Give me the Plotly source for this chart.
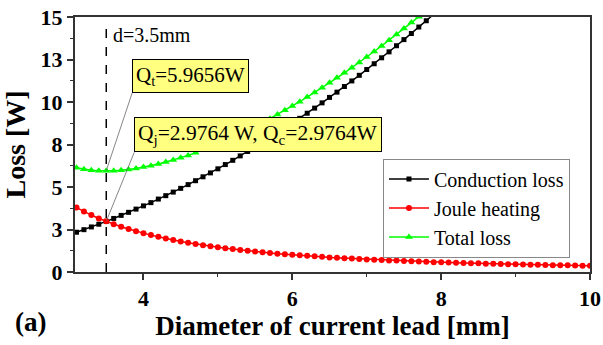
import plotly.graph_objects as go

# Diameter of current lead [mm]
d_cond = [3.1, 3.2, 3.3, 3.4, 3.5, 3.6, 3.7, 3.8, 3.9, 4.0, 4.1, 4.2, 4.3, 4.4, 4.5, 4.6, 4.7, 4.8, 4.9, 5.0,
          5.1, 5.2, 5.3, 5.4, 5.5, 5.6, 5.7, 5.8, 5.9, 6.0, 6.1, 6.2, 6.3, 6.4, 6.5, 6.6, 6.7, 6.8, 6.9, 7.0,
          7.1, 7.2, 7.3, 7.4, 7.5, 7.6, 7.7, 7.8, 7.9, 8.0]
conduction = [2.34, 2.49, 2.65, 2.81, 2.98, 3.15, 3.33, 3.51, 3.70, 3.89, 4.08, 4.29, 4.49, 4.70, 4.92, 5.14,
              5.37, 5.60, 5.83, 6.07, 6.32, 6.57, 6.83, 7.09, 7.35, 7.62, 7.89, 8.17, 8.46, 8.75, 9.04, 9.34,
              9.64, 9.95, 10.27, 10.58, 10.91, 11.24, 11.57, 11.91, 12.25, 12.60, 12.95, 13.31, 13.67, 14.03,
              14.41, 14.78, 15.16, 15.55]

d_joule = [3.1, 3.2, 3.3, 3.4, 3.5, 3.6, 3.7, 3.8, 3.9, 4.0, 4.1, 4.2, 4.3, 4.4, 4.5, 4.6, 4.7, 4.8, 4.9, 5.0,
           5.1, 5.2, 5.3, 5.4, 5.5, 5.6, 5.7, 5.8, 5.9, 6.0, 6.1, 6.2, 6.3, 6.4, 6.5, 6.6, 6.7, 6.8, 6.9, 7.0,
           7.1, 7.2, 7.3, 7.4, 7.5, 7.6, 7.7, 7.8, 7.9, 8.0, 8.1, 8.2, 8.3, 8.4, 8.5, 8.6, 8.7, 8.8, 8.9, 9.0,
           9.1, 9.2, 9.3, 9.4, 9.5, 9.6, 9.7, 9.8, 9.9, 10.0]
joule = [3.79, 3.56, 3.35, 3.15, 2.98, 2.81, 2.66, 2.53, 2.40, 2.28, 2.17, 2.07, 1.97, 1.88, 1.80, 1.72,
         1.65, 1.58, 1.52, 1.46, 1.40, 1.35, 1.30, 1.25, 1.21, 1.16, 1.12, 1.08, 1.05, 1.01, 0.98, 0.95,
         0.92, 0.89, 0.86, 0.84, 0.81, 0.79, 0.77, 0.74, 0.72, 0.70, 0.68, 0.67, 0.65, 0.63, 0.62, 0.60,
         0.58, 0.57, 0.56, 0.54, 0.53, 0.52, 0.51, 0.49, 0.48, 0.47, 0.46, 0.45, 0.44, 0.43, 0.42, 0.41,
         0.40, 0.40, 0.39, 0.38, 0.37, 0.37]

d_total = [3.1, 3.2, 3.3, 3.4, 3.5, 3.6, 3.7, 3.8, 3.9, 4.0, 4.1, 4.2, 4.3, 4.4, 4.5, 4.6, 4.7, 4.8, 4.9, 5.0,
           5.1, 5.2, 5.3, 5.4, 5.5, 5.6, 5.7, 5.8, 5.9, 6.0, 6.1, 6.2, 6.3, 6.4, 6.5, 6.6, 6.7, 6.8, 6.9, 7.0,
           7.1, 7.2, 7.3, 7.4, 7.5, 7.6, 7.7, 7.8]
total = [6.13, 6.05, 5.99, 5.96, 5.95, 5.96, 5.99, 6.03, 6.09, 6.17, 6.25, 6.35, 6.47, 6.59, 6.72, 6.86,
         7.02, 7.18, 7.35, 7.53, 7.72, 7.92, 8.12, 8.34, 8.56, 8.78, 9.02, 9.26, 9.51, 9.76, 10.02, 10.29,
         10.56, 10.84, 11.13, 11.42, 11.72, 12.02, 12.33, 12.65, 12.97, 13.30, 13.63, 13.97, 14.32, 14.67,
         15.02, 15.38]

x_tickvals = [4, 6, 8, 10]
y_tickvals = [0, 2.5, 5, 7.5, 10, 12.5, 15]
y_ticktext = ["0", "3", "5", "8", "10", "13", "15"]

d_opt = 3.5
q_total_opt = 5.96
q_cross = 2.98

FONT = "Liberation Serif"

fig = go.Figure()
fig.add_trace(go.Scatter(x=d_cond, y=conduction, mode="lines+markers", name="Conduction loss",
                         line=dict(color="black", width=1.5),
                         marker=dict(symbol="square", size=5, color="black")))
fig.add_trace(go.Scatter(x=d_joule, y=joule, mode="lines+markers", name="Joule heating",
                         line=dict(color="#FF0000", width=1.5),
                         marker=dict(symbol="circle", size=6, color="#FF0000")))
fig.add_trace(go.Scatter(x=d_total, y=total, mode="lines+markers", name="Total loss",
                         line=dict(color="#00FF00", width=1.5),
                         marker=dict(symbol="triangle-up", size=7, color="#00FF00")))

fig.add_shape(type="line", x0=d_opt, x1=d_opt, y0=0, y1=14.6, xref="x", yref="y",
              line=dict(color="black", width=1.5, dash="dash"))

fig.add_annotation(x=3.56, y=13.95, text="d=3.5mm", showarrow=False, xanchor="left", yanchor="middle",
                   font=dict(family=FONT, size=20, color="black"))

fig.add_annotation(x=d_opt, y=q_total_opt, text="Q<sub>t</sub>=5.9656W", showarrow=True,
                   arrowhead=0, arrowwidth=0.8, arrowcolor="#666666", ax=26, ay=-78,
                   xanchor="left", yanchor="bottom", bgcolor="#FFFF80", bordercolor="black",
                   borderwidth=1, borderpad=3, font=dict(family=FONT, size=21, color="black"))
fig.add_annotation(x=d_opt, y=q_cross, text="Q<sub>j</sub>=2.9764 W, Q<sub>c</sub>=2.9764W", showarrow=True,
                   arrowhead=0, arrowwidth=0.8, arrowcolor="#666666", ax=28, ay=-69,
                   xanchor="left", yanchor="bottom", bgcolor="#FFFF80", bordercolor="black",
                   borderwidth=1, borderpad=3, font=dict(family=FONT, size=21.5, color="black"))

fig.add_annotation(x=-0.12, y=-0.195, xref="paper", yref="paper", text="<b>(a)</b>", showarrow=False,
                   xanchor="left", yanchor="middle", font=dict(family=FONT, size=27, color="black"))

fig.update_xaxes(range=[3.08, 10], tickvals=x_tickvals, ticks="outside", ticklen=6, tickwidth=1.5,
                 tickcolor="#333333", showline=True, linecolor="#333333", linewidth=2, mirror=True,
                 showgrid=False, zeroline=False, automargin=False,
                 minor=dict(dtick=1, tick0=3, ticks="outside", ticklen=3, tickwidth=1.2, tickcolor="#333333"),
                 tickfont=dict(family=FONT, size=22, color="black", weight="bold"),
                 title=dict(text="<b>Diameter of current lead [mm]</b>", standoff=4,
                            font=dict(family=FONT, size=27, color="black")))
fig.update_yaxes(range=[0, 15], tickvals=y_tickvals, ticktext=y_ticktext, ticks="outside", ticklen=6,
                 tickwidth=1.5, tickcolor="#333333", showline=True, linecolor="#333333", linewidth=2,
                 mirror=True, showgrid=False, zeroline=False, automargin=False,
                 minor=dict(dtick=1.25, tick0=0, ticks="outside", ticklen=3, tickwidth=1.2, tickcolor="#333333"),
                 tickfont=dict(family=FONT, size=22, color="black", weight="bold"),
                 title=dict(text="<b>Loss [W]</b>", standoff=10,
                            font=dict(family=FONT, size=28, color="black")))

fig.update_layout(width=603, height=345, margin=dict(l=75, r=13, t=17, b=73),
                  font=dict(family=FONT, color="black"),
                  plot_bgcolor="white", paper_bgcolor="white",
                  legend=dict(x=0.598, y=0.445, xanchor="left", yanchor="top", bgcolor="white",
                              bordercolor="#888888", borderwidth=1, tracegroupgap=0,
                              font=dict(family=FONT, size=20, color="black"), itemwidth=40),
                  showlegend=True)

fig.write_html("out.html")
